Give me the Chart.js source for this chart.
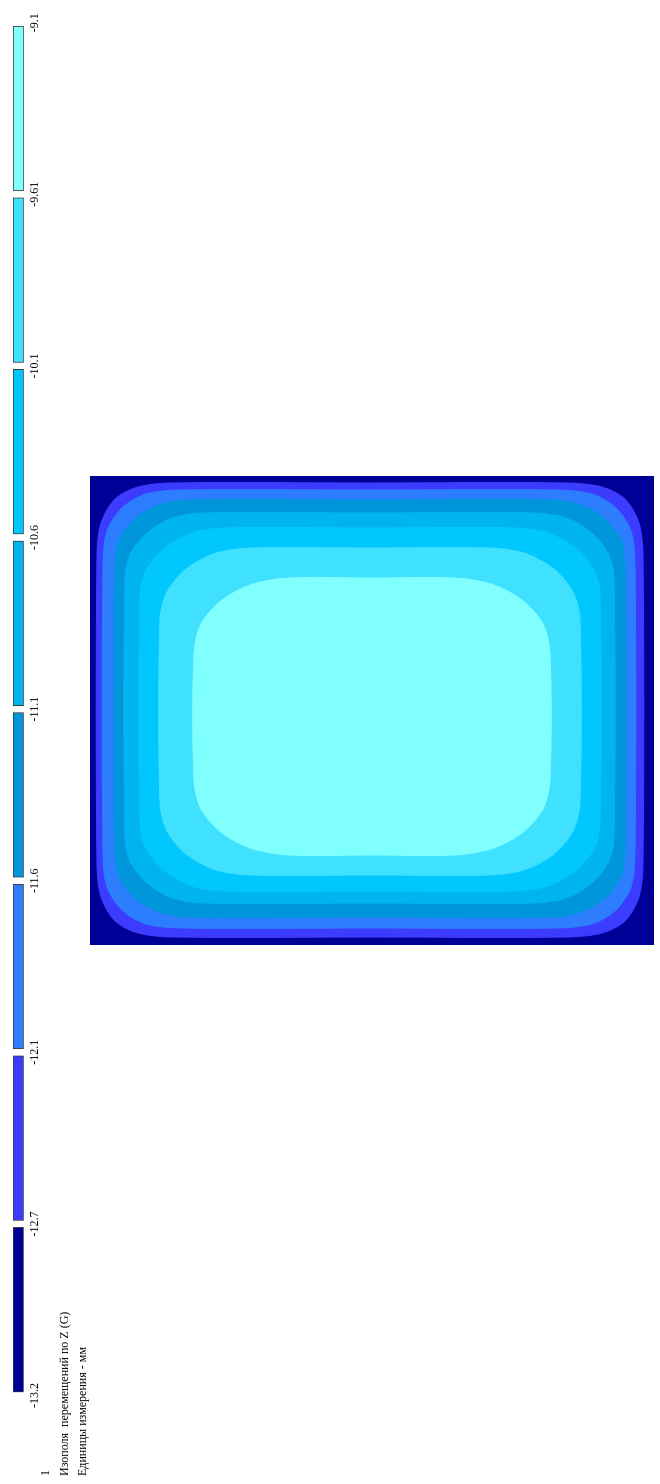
<!DOCTYPE html>
<html>
<head>
<meta charset="utf-8">
<script src="https://cdn.jsdelivr.net/npm/chart.js@4.4.1/dist/chart.umd.min.js"></script>
<style>
  html, body { margin: 0; padding: 0; background: #fff; width: 660px; height: 1484px; overflow: hidden; }
  canvas { display: block; }
  #scaleBox { position: absolute; left: 0; top: 0; width: 1484px; height: 100px;
              transform-origin: 0 0; transform: translate(0, 1484px) rotate(-90deg); }
  #plate { position: absolute; left: 90px; top: 476px; }
</style>
</head>
<body>
<div id="scaleBox"><canvas id="scale" width="1484" height="100"></canvas></div>
<canvas id="plate" width="564" height="469"></canvas>
<script>
// legend of the isofield, from -13.2 up to -9.1
const tickLabels = ['-13.2', '-12.7', '-12.1', '-11.6', '-11.1', '-10.6', '-10.1', '-9.61', '-9.1'];
const bandColors = ['#000096', '#3c3cff', '#2d7dff', '#0096dc', '#00b4f0', '#00c8ff', '#40e0ff', '#80ffff'];
const titleLines = ['1', 'Изополя  перемещений по Z (G)', 'Единицы измерения - мм'];

// plate and iso-lines, plate coords (x to the right, y down)
const plateOutline = [[0, 0], [564, 0], [564, 469], [0, 469], [0, 0]];
const isoLine1 = [[280, 7], [478, 7], [512, 11], [535, 23], [549, 47], [553, 79], [553, 389], [549, 421], [535, 445], [512, 457], [478, 461], [280, 461], [82, 461], [48, 457], [25, 445], [11, 421], [7, 389], [7, 79], [11, 47], [25, 23], [48, 11], [82, 7], [280, 7]];
const isoLine2 = [[279, 14], [467, 14], [502, 18], [526, 32], [541, 55], [545, 88], [545, 378], [541, 411], [526, 434], [502, 448], [467, 452], [279, 452], [91, 452], [56, 448], [32, 434], [17, 411], [13, 378], [13, 88], [17, 55], [32, 32], [56, 18], [91, 14], [279, 14]];
const isoLine3 = [[280, 24], [463, 24], [491, 29], [514, 42], [530, 62], [535, 86], [535, 379], [530, 403], [514, 423], [491, 436], [463, 441], [280, 441], [97, 441], [69, 436], [46, 423], [30, 403], [25, 379], [25, 86], [30, 62], [46, 42], [69, 29], [97, 24], [280, 24]];
const isoLine4 = [[280, 37], [446, 37], [476, 42], [501, 56], [518, 77], [524, 102], [524, 362], [518, 387], [501, 408], [476, 422], [446, 427], [280, 427], [113, 427], [83, 422], [58, 408], [41, 387], [35, 362], [35, 102], [41, 77], [58, 56], [83, 42], [113, 37], [280, 37]];
const isoLine5 = [[280, 52], [426, 52], [458, 57], [485, 72], [504, 94], [510, 120], [510, 347], [504, 373], [485, 395], [458, 410], [426, 415], [280, 415], [134, 415], [102, 410], [75, 395], [56, 373], [50, 347], [50, 120], [56, 94], [75, 72], [102, 57], [134, 52], [280, 52]];
const isoLine6 = [[280, 72], [400, 72], [434, 77], [464, 93], [483, 116], [490, 144], [490, 327], [483, 355], [464, 378], [434, 394], [400, 399], [280, 399], [160, 399], [126, 394], [96, 378], [77, 355], [70, 327], [70, 144], [77, 116], [96, 93], [126, 77], [160, 72], [280, 72]];
const isoLine7 = [[282, 102], [365, 102], [401, 108], [432, 124], [453, 148], [460, 177], [460, 304], [453, 333], [432, 357], [401, 373], [365, 379], [282, 379], [199, 379], [163, 373], [132, 357], [111, 333], [104, 304], [104, 177], [111, 148], [132, 124], [163, 108], [199, 102], [282, 102]];

const serif = 'Liberation Serif';

// scale bar (drawn landscape, the box is turned on the page)
new Chart(document.getElementById('scale'), {
    type: 'bar',
    data: {
        labels: [''],
        datasets: bandColors.map((c, i) => ({
            data: [[i + 0.02, i + 0.98]],
            backgroundColor: c,
            borderColor: '#3a3a3a',
            borderWidth: 1,
            borderSkipped: false,
            grouped: false,
            barPercentage: 1,
            categoryPercentage: 1
        }))
    },
    options: {
        indexAxis: 'y',
        responsive: false,
        animation: false,
        events: [],
        layout: { padding: { top: 13, left: 8, right: 22.7, bottom: 0 } },
        scales: {
            x: {
                type: 'linear',
                min: -0.469,
                max: 8,
                grid: { display: false, drawTicks: false },
                border: { display: false },
                afterBuildTicks: (s) => { s.ticks = tickLabels.map((t, i) => ({ value: i })); },
                ticks: {
                    autoSkip: false,
                    maxRotation: 0,
                    padding: 4,
                    color: '#000',
                    font: { family: serif, size: 12 },
                    callback: (v) => tickLabels[v]
                }
            },
            y: { display: false }
        },
        plugins: {
            legend: { display: false },
            tooltip: { enabled: false },
            title: {
                display: true,
                position: 'bottom',
                align: 'start',
                text: titleLines,
                color: '#000',
                font: { family: serif, size: 12, weight: 'normal', lineHeight: 1.54 },
                padding: { top: -9.25, bottom: 7.75 }
            }
        }
    }
});

// the isofield itself
const outlines = [plateOutline, isoLine1, isoLine2, isoLine3, isoLine4, isoLine5, isoLine6, isoLine7];

new Chart(document.getElementById('plate'), {
    type: 'scatter',
    data: {
        datasets: outlines.map((pts, i) => ({
            data: pts.map(p => ({ x: p[0], y: p[1] })),
            showLine: true,
            fill: 'shape',
            backgroundColor: bandColors[i],
            borderColor: bandColors[i],
            borderWidth: 1,
            pointRadius: 0,
            pointHoverRadius: 0,
            tension: i ? 0.3 : 0,
            order: outlines.length - i
        }))
    },
    options: {
        responsive: false,
        animation: false,
        events: [],
        layout: { padding: 0 },
        scales: {
            x: { type: 'linear', min: 0, max: 564, display: false },
            y: { type: 'linear', min: 0, max: 469, reverse: true, display: false }
        },
        plugins: { legend: { display: false }, tooltip: { enabled: false } }
    }
});
</script>
</body>
</html>
